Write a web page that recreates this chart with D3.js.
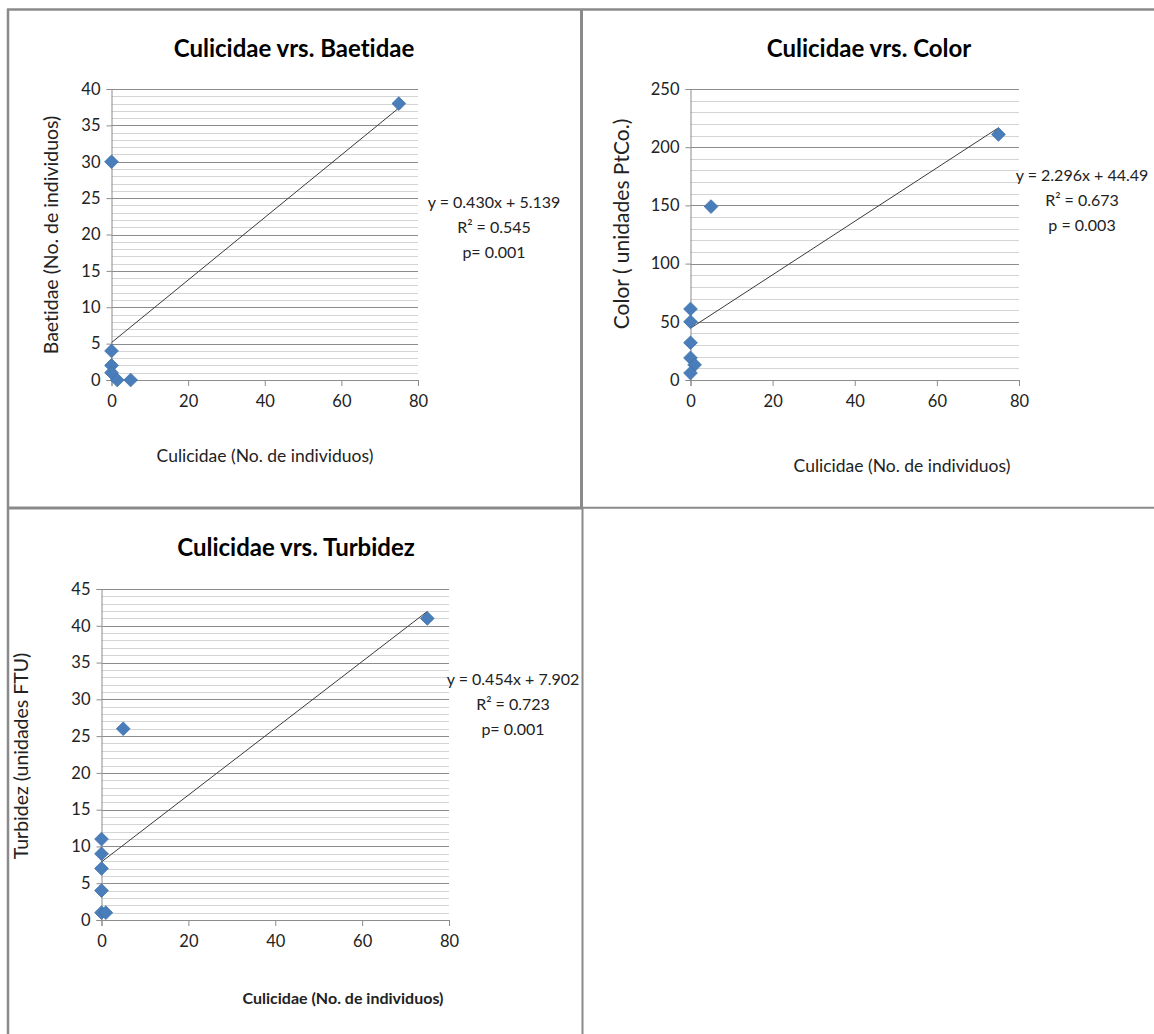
<!DOCTYPE html>
<html>
<head>
<meta charset="utf-8">
<script src="https://cdn.jsdelivr.net/npm/d3@7"></script>
<style>
  html, body { margin: 0; padding: 0; background: #fff; }
  svg { display: block; font-family: Lato, "Open Sans", sans-serif; }
  svg text { font-variant-ligatures: none; }
</style>
</head>
<body>
<svg id="chart" width="1154" height="1034"></svg>
<script>
// Culicidae counts against three response variables
const baetidaeX = [75, 0, 0, 0, 0, 1.5, 5];
const baetidaeY = [38, 30, 4, 2, 1, 0, 0];
const colorX = [75, 5, 0, 0, 0, 0, 1, 0];
const colorY = [211, 149, 61, 50, 32, 19, 13, 6];
const turbidezX = [75, 5, 0, 0, 0, 0, 0, 1];
const turbidezY = [41, 26, 11, 9, 7, 4, 1, 1];

// Fitted trend lines: [slope, intercept]
const baetidaeFit = [0.430, 5.139];
const colorFit = [2.296, 44.49];
const turbidezFit = [0.454, 7.902];

// Fit statistics as printed next to each chart
const baetidaeStats = ["y = 0.430x + 5.139", "R² = 0.545", "p= 0.001"];
const colorStats = ["y = 2.296x + 44.49", "R² = 0.673", "p = 0.003"];
const turbidezStats = ["y = 0.454x + 7.902", "R² = 0.723", "p= 0.001"];

const titles = ["Culicidae vrs. Baetidae", "Culicidae vrs. Color", "Culicidae vrs. Turbidez"];
const yTitles = ["Baetidae (No. de individuos)", "Color ( unidades PtCo.)", "Turbidez (unidades FTU)"];
const xTitle = "Culicidae (No. de individuos)";
const xTicks = [0, 20, 40, 60, 80];
const yTicksBaetidae = [0, 5, 10, 15, 20, 25, 30, 35, 40];
const yTicksColor = [0, 50, 100, 150, 200, 250];
const yTicksTurbidez = [0, 5, 10, 15, 20, 25, 30, 35, 40, 45];

const svg = d3.select("#chart");

// Panel frame lines
const frame = svg.append("g").attr("stroke", "#8a8a8a").attr("fill", "none");
frame.append("line").attr("x1", 7).attr("x2", 1154).attr("y1", 9.5).attr("y2", 9.5).attr("stroke-width", 2.5);
frame.append("line").attr("x1", 8).attr("x2", 8).attr("y1", 9).attr("y2", 1034).attr("stroke-width", 2.5);
frame.append("line").attr("x1", 581.5).attr("x2", 581.5).attr("y1", 9).attr("y2", 508).attr("stroke-width", 3);
frame.append("line").attr("x1", 582.5).attr("x2", 582.5).attr("y1", 508).attr("y2", 1034).attr("stroke-width", 2);
frame.append("line").attr("x1", 7).attr("x2", 582).attr("y1", 508).attr("y2", 508).attr("stroke-width", 3);
frame.append("line").attr("x1", 582).attr("x2", 1154).attr("y1", 507.8).attr("y2", 507.8).attr("stroke-width", 2);

const panels = [
  {
    xs: baetidaeX, ys: baetidaeY, fit: baetidaeFit, stats: baetidaeStats,
    title: titles[0], yTitle: yTitles[0], yTicks: yTicksBaetidae, yMax: 40, minorStep: 1,
    left: 111.5, right: 418, top: 89, bottom: 380,
    titleX: 294, titleY: 57, yTitleX: 58, yTitleY: 235, yTitleSize: 19.5,
    xTitleX: 265, xTitleY: 462, xTitleBold: false, xTitleSize: 17.5,
    statsX: 494, statsY: 208
  },
  {
    xs: colorX, ys: colorY, fit: colorFit, stats: colorStats,
    title: titles[1], yTitle: yTitles[1], yTicks: yTicksColor, yMax: 250, minorStep: 10,
    left: 690.5, right: 1019, top: 89, bottom: 380,
    titleX: 869, titleY: 57, yTitleX: 629, yTitleY: 224, yTitleSize: 21,
    xTitleX: 902, xTitleY: 472, xTitleBold: false, xTitleSize: 17.5,
    statsX: 1082, statsY: 181
  },
  {
    xs: turbidezX, ys: turbidezY, fit: turbidezFit, stats: turbidezStats,
    title: titles[2], yTitle: yTitles[2], yTicks: yTicksTurbidez, yMax: 45, minorStep: 1,
    left: 101.5, right: 449, top: 589, bottom: 920,
    titleX: 296, titleY: 556, yTitleX: 28, yTitleY: 756, yTitleSize: 19.5,
    xTitleX: 343, xTitleY: 1004, xTitleBold: true, xTitleSize: 16,
    statsX: 513, statsY: 685
  }
];

panels.forEach(p => {
  const g = svg.append("g");
  const x = d3.scaleLinear().domain([0, 80]).range([p.left, p.right]);
  const y = d3.scaleLinear().domain([0, p.yMax]).range([p.bottom, p.top]);

  // minor gridlines
  const minor = d3.range(0, p.yMax + 0.001, p.minorStep).filter(v => !p.yTicks.includes(v));
  g.append("g").selectAll("line").data(minor).join("line")
    .attr("x1", x(0)).attr("x2", x(80))
    .attr("y1", d => Math.round(y(d)) + 0.5).attr("y2", d => Math.round(y(d)) + 0.5)
    .attr("stroke", "#d4d4d4").attr("stroke-width", 1);

  // major gridlines
  g.append("g").selectAll("line").data(p.yTicks.filter(v => v > 0)).join("line")
    .attr("x1", x(0)).attr("x2", x(80))
    .attr("y1", d => Math.round(y(d)) + 0.5).attr("y2", d => Math.round(y(d)) + 0.5)
    .attr("stroke", "#8c8c8c").attr("stroke-width", 1);

  // axes
  const yAxis = g.append("g").attr("transform", `translate(${x(0)},0)`)
    .call(d3.axisLeft(y).tickValues(p.yTicks).tickSize(5).tickPadding(6));
  const xAxis = g.append("g").attr("transform", `translate(0,${y(0)})`)
    .call(d3.axisBottom(x).tickValues(xTicks).tickSize(6).tickPadding(9));
  [yAxis, xAxis].forEach(a => {
    a.select(".domain").attr("stroke", "#8c8c8c");
    a.selectAll(".tick line").attr("stroke", "#8c8c8c");
    a.selectAll(".tick text").attr("fill", "#222").style("font-size", "16.5px")
      .style("font-family", "Lato, 'Open Sans', sans-serif");
  });

  // trend line over the observed range
  const xExt = d3.extent(p.xs);
  g.append("line")
    .attr("x1", x(xExt[0])).attr("y1", y(p.fit[0] * xExt[0] + p.fit[1]))
    .attr("x2", x(xExt[1])).attr("y2", y(p.fit[0] * xExt[1] + p.fit[1]))
    .attr("stroke", "#3a3a3a").attr("stroke-width", 1);

  // diamond markers
  const diamond = d3.symbol().type(d3.symbolDiamond2).size(120);
  g.append("g").selectAll("path").data(p.xs.map((v, i) => [v, p.ys[i]])).join("path")
    .attr("d", diamond)
    .attr("transform", d => `translate(${x(d[0])},${y(d[1])})`)
    .attr("fill", "#4a7ebb").attr("stroke", "#3d6fa8").attr("stroke-width", 0.8);

  // titles
  g.append("text").attr("x", p.titleX).attr("y", p.titleY)
    .attr("text-anchor", "middle").style("font-size", "24px").style("font-weight", "bold")
    .attr("fill", "#000").text(p.title);
  g.append("text")
    .attr("transform", `translate(${p.yTitleX},${p.yTitleY}) rotate(-90)`)
    .attr("text-anchor", "middle").style("font-size", p.yTitleSize + "px").attr("fill", "#222")
    .text(p.yTitle);
  g.append("text").attr("x", p.xTitleX).attr("y", p.xTitleY)
    .attr("text-anchor", "middle").style("font-size", p.xTitleSize + "px")
    .style("font-weight", p.xTitleBold ? "bold" : "normal").attr("fill", "#222")
    .text(xTitle);

  // fit statistics
  g.append("g").selectAll("text").data(p.stats).join("text")
    .attr("x", p.statsX).attr("y", (d, i) => p.statsY + i * 25)
    .attr("text-anchor", "middle").style("font-size", "16px").attr("fill", "#222")
    .text(d => d);
});
</script>
</body>
</html>
